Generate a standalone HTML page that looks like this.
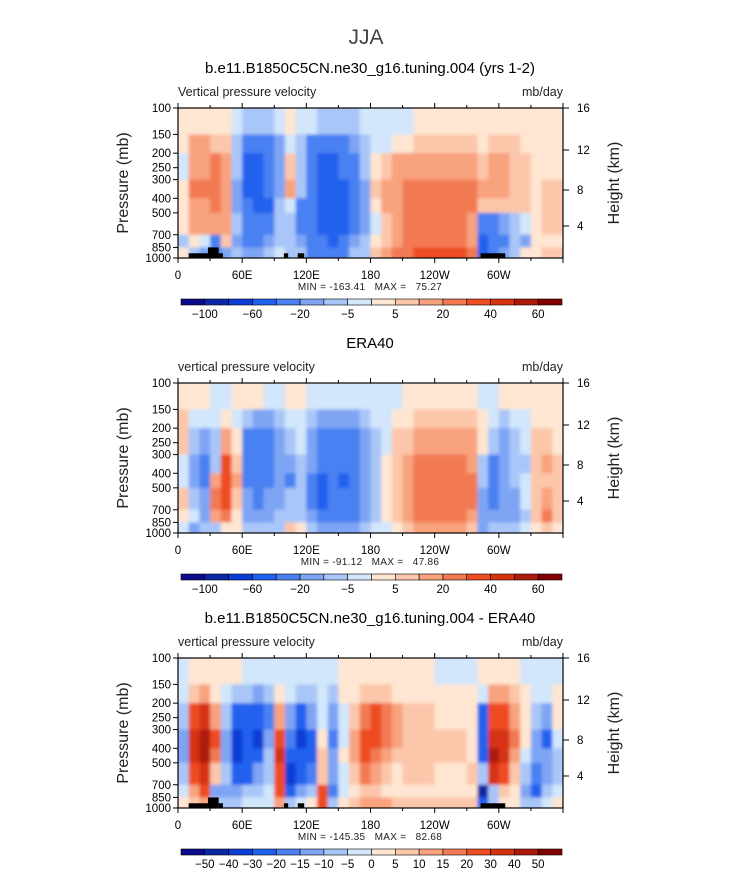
<!DOCTYPE html>
<html><head><meta charset="utf-8"><style>
body{margin:0;background:#fff;}
svg{display:block;font-family:"Liberation Sans",sans-serif;}
</style></head><body>
<svg id="root" width="733" height="888" viewBox="0 0 733 888">
<defs><filter id="soft" x="-2%" y="-2%" width="104%" height="104%"><feGaussianBlur stdDeviation="1.6"/></filter></defs>
<text x="366" y="44" font-size="21" fill="#444" text-anchor="middle" font-weight="300">JJA</text>
<g id="panels"></g>
</svg>
<script>
// ===== data =====
const lonEdges = [0,10,20,30,40,50,60,70,80,90,100,110,120,130,140,150,160,170,180,190,200,210,220,230,240,250,260,270,280,290,300,310,320,330,340,350,360];
const presEdges = [100,150,200,300,400,500,700,850,1000];
const xTickVals = [0,60,120,180,240,300];
const xTickLabels = ["0","60E","120E","180","120W","60W"];
const pTickVals = [100,150,200,250,300,400,500,700,850,1000];
const hTickLabels = ["16","12","8","4"];
const levelsA = [-100,-80,-60,-40,-20,-10,-5,0,5,10,20,30,40,50,60];
const labelsA = ["-100","","-60","","-20","","-5","","5","","20","","40","","60"];
const levelsB = [-50,-40,-30,-20,-15,-10,-5,0,5,10,15,20,30,40,50];
const labelsB = ["-50","-40","-30","-20","-15","-10","-5","0","5","10","15","20","30","40","50"];
const palette = ["#0a0a8a","#0a28a6","#0a3cd6","#2060ee","#4a80f2","#7ea4f4","#a9c6f8","#d2e6fc","#fee6d2","#fcc6aa","#f8a27e","#f27a52","#ee4c22","#d63212","#ae1a0a","#820000"];
const topoBlocks = [[10,28,930],[28,38,850],[38,42,930],[99,103,930],[112,118,930],[283,306,930]];
// model (rows top->bottom: 100-150,150-200,200-300,300-400,400-500,500-700,700-850,850-1000)
const model = [
[3,3,-3,3,3,3,-7,3],[3,15,15,25,15,15,3,-7],[3,15,15,25,15,15,-3,-15],[3,7,25,25,25,15,-30,-30],
[3,7,15,15,15,15,7,-15],[-3,-7,-7,-15,-15,-7,-15,-7],[-7,-30,-50,-50,-30,-30,-30,-15],[-7,-30,-50,-50,-50,-30,-30,-15],
[-7,-30,-30,-30,-50,-30,-15,-7],[-3,-15,-15,-15,-7,-7,-7,-3],[3,-3,7,15,-3,-7,-7,-7],[-3,-7,-7,-7,-30,-30,-15,-7],
[-3,-30,-30,-30,-30,-30,-30,-30],[-7,-30,-50,-50,-50,-50,-30,-30],[-7,-30,-50,-50,-50,-50,-50,-30],[-7,-30,-30,-50,-50,-50,-30,-30],
[-7,-15,-30,-30,-30,-30,-15,-7],[-3,-7,-7,-15,-15,-15,-7,-7],[-3,-3,3,7,3,-3,3,7],[-3,-3,7,15,15,7,7,15],
[-3,3,15,15,15,15,15,25],[-3,3,15,25,25,25,25,25],[3,7,15,25,25,25,25,35],[3,7,15,25,25,25,25,35],
[3,7,15,25,25,25,25,35],[3,7,15,25,25,25,25,35],[3,7,15,25,25,25,25,35],[3,7,15,25,25,15,15,25],
[3,3,7,15,7,-30,-50,-50],[3,7,15,15,7,-30,-30,-30],[3,7,15,15,7,-15,-30,-15],[3,7,7,7,7,-7,-7,-7],
[3,3,7,7,7,-3,-15,3],[3,3,3,3,3,3,3,3],[3,3,3,7,7,7,3,7],[3,3,3,7,7,7,3,7]];
const era = [
[3,7,7,-3,-3,7,3,-3],[3,-3,-7,-15,-15,-7,-3,-15],[3,-3,-15,-30,-30,-15,-15,-7],[-3,-3,-7,-7,15,25,15,-7],
[-3,3,15,35,35,35,25,3],[3,-3,3,7,15,7,3,3],[3,-7,-30,-30,-30,-15,-15,-7],[3,-15,-30,-30,-30,-30,-15,-7],
[-3,-15,-30,-30,-30,-15,-15,-7],[-3,-7,-15,-15,-15,-15,-7,-7],[3,-3,-7,-15,-30,-7,-7,7],[3,-3,-3,-7,-7,-7,-7,3],
[-3,-7,-15,-15,-30,-30,-15,-7],[-3,-15,-30,-30,-50,-50,-30,-15],[-3,-15,-30,-30,-30,-30,-30,-15],[-3,-15,-30,-30,-50,-30,-30,-15],
[-3,-15,-30,-30,-30,-30,-30,-15],[-3,-7,-15,-15,-15,-15,-15,-7],[-3,-3,-7,-7,-7,-7,-7,-3],[-3,-3,-3,3,3,3,3,-3],
[-3,3,7,7,7,7,7,3],[3,3,7,15,15,15,15,7],[3,7,15,25,25,25,25,15],[3,7,15,25,25,25,25,15],
[3,7,15,25,25,25,25,15],[3,7,15,25,25,25,25,15],[3,7,15,25,25,25,25,15],[3,7,15,15,25,25,15,7],
[-3,3,3,-7,-7,-15,-15,-15],[-3,-3,-7,-30,-30,-30,-15,-7],[3,-7,-15,-15,-15,-15,-15,-7],[3,-3,-7,-7,-7,-15,-15,-7],
[3,-3,-3,-7,-3,-3,-7,-3],[3,3,7,7,7,7,7,3],[3,3,7,15,7,15,25,7],[3,3,3,7,7,7,7,3]];
const diff = [
[-2,-2,-7,-12,-12,-7,-2,2],[2,7,25,35,35,25,12,7],[2,12,35,45,45,35,25,12],[2,2,12,25,17,7,-12,-7],
[2,-2,-7,-12,-12,-7,-12,-7],[2,-7,-25,-35,-35,-25,-12,-7],[-2,-7,-25,-25,-25,-25,-7,-2],[-2,-12,-25,-35,-25,-12,-7,-2],
[-2,-7,-17,-12,-7,-7,-2,-2],[-2,2,12,25,35,25,25,12],[-2,-2,-12,-17,-25,-35,-25,-7],[-2,-7,-25,-35,-25,-25,-12,-2],
[-2,-7,-12,-25,-25,-17,-7,2],[-2,-2,-2,2,7,7,25,25],[-2,-7,-12,-17,-12,-12,-17,-7],[2,2,-2,-2,2,-2,-2,2],
[2,2,7,12,12,7,2,7],[2,7,17,25,25,17,7,12],[2,7,25,25,17,12,7,12],[2,7,17,17,12,7,2,12],
[2,2,12,12,7,2,2,7],[2,2,7,7,7,7,2,7],[2,2,7,7,7,7,2,7],[2,2,7,7,7,7,2,7],
[-2,2,2,7,7,2,2,7],[-2,2,2,7,7,2,2,7],[-2,2,2,7,7,2,2,7],[-2,2,2,2,2,7,2,7],
[2,-2,-25,-25,-25,-7,-45,-25],[2,12,25,35,45,35,-7,-7],[2,12,25,35,35,25,7,2],[2,7,12,17,12,7,2,2],
[-2,2,2,2,-2,-7,-12,-7],[-2,-2,-7,-12,-12,-17,-25,-7],[-2,-2,-12,-25,-12,-12,-7,-2],[-2,2,2,-2,-7,-7,-2,2]];

const NS="http://www.w3.org/2000/svg";
function el(tag, attrs, parent, txt){const e=document.createElementNS(NS,tag);for(const k in attrs)e.setAttribute(k,attrs[k]);if(txt!==undefined)e.textContent=txt;parent.appendChild(e);return e;}
const X0=178,X1=563,H=150;
const xs=lon=>X0+(lon/360)*(X1-X0);
function cls(v,lev){let c=0;for(const b of lev)if(v>=b)c++;return c;}
const panelsG=document.getElementById('panels');
const defs=document.querySelector('defs');
const panels=[
 {top:108,title:"b.e11.B1850C5CN.ne30_g16.tuning.004 (yrs 1-2)",sub:"Vertical pressure velocity",data:model,lev:levelsA,lab:labelsA,mm:"MIN = -163.41   MAX =   75.27",topo:true,name:"model"},
 {top:383,title:"ERA40",sub:"vertical pressure velocity",data:era,lev:levelsA,lab:labelsA,mm:"MIN = -91.12   MAX =   47.86",topo:false,name:"era40"},
 {top:658,title:"b.e11.B1850C5CN.ne30_g16.tuning.004 - ERA40",sub:"vertical pressure velocity",data:diff,lev:levelsB,lab:labelsB,mm:"MIN = -145.35   MAX =   82.68",topo:true,name:"difference"}];
panels.forEach((P,pi)=>{
 const T=P.top, ys=p=>T+Math.log10(p/100)*H;
 const cp=el('clipPath',{id:'clip'+pi},defs);
 el('rect',{x:X0,y:T,width:X1-X0,height:H},cp);
 const g=el('g',{},panelsG);
 
 
 const t=el('text',{x:370,y:T-35,'font-size':15,'text-anchor':'middle',fill:'#000'},g,P.title);
 
 
 const s=el('text',{x:X0,y:T-12,'font-size':12.5,fill:'#222'},g,P.sub);
 
 
 const u=el('text',{x:X1,y:T-12,'font-size':12.5,fill:'#222','text-anchor':'end'},g,'mb/day');
 
 
 const clipG=el('g',{'clip-path':`url(#clip${pi})`},g);
 const cg=el('g',{filter:'url(#soft)'},clipG);
 
 
 P.data.forEach((col,i)=>{col.forEach((v,j)=>{
   const x=xs(lonEdges[i]),w=xs(lonEdges[i+1])-x+0.5,y=ys(presEdges[j]),h=ys(presEdges[j+1])-y+0.5;
   const ext=(i===0?4:0),exr=(i===P.data.length-1?4:0),ext2=(j===0?4:0),exb=(j===7?4:0);
   const r=el('rect',{x:x-ext,y:y-ext2,width:w+ext+exr,height:h+ext2+exb,fill:palette[cls(v,P.lev)]},cg);
   
   
 });});
 if(P.topo){topoBlocks.forEach(b=>{
   const r=el('rect',{x:xs(b[0]),y:ys(b[2]),width:xs(b[1])-xs(b[0]),height:T+H-ys(b[2]),fill:'#000'},g);
   
   
 });}
 const fr=el('rect',{x:X0,y:T,width:X1-X0,height:H,fill:'none',stroke:'#000','stroke-width':1.2},g);
 
 
 for(let lon=0;lon<=360;lon+=30){
   const major=lon%60===0,L=major?5:3,x=xs(lon);
   el('line',{x1:x,x2:x,y1:T,y2:T-L,stroke:'#000'},g);
   el('line',{x1:x,x2:x,y1:T+H,y2:T+H+L,stroke:'#000'},g);
 }
 xTickVals.forEach((v,i)=>{const tx=el('text',{x:xs(v),y:T+H+21,'font-size':11.5,'text-anchor':'middle'},g,xTickLabels[i]);
   
   });
 const mm=el('text',{x:370,y:T+H+32,'font-size':10,'text-anchor':'middle',fill:'#222','xml:space':'preserve',style:'white-space:pre','letter-spacing':'0.3'},g,P.mm);
 
 
 pTickVals.forEach(p=>{const y=ys(p);el('line',{x1:X0,x2:X0-5,y1:y,y2:y,stroke:'#000'},g);
   const tx=el('text',{x:171,y:y+4,'font-size':11.5,'text-anchor':'end'},g,String(p));
   
   });
 const hOff=[0,42,82,118];
 hTickLabels.forEach((l,i)=>{const y=T+hOff[i];el('line',{x1:X1,x2:X1+6,y1:y,y2:y,stroke:'#000'},g);
   const tx=el('text',{x:577,y:y+4,'font-size':11.5},g,l);
   
   });
 const yt=el('text',{x:0,y:0,'font-size':16,'text-anchor':'middle',fill:'#222',transform:`translate(128,${T+H/2}) rotate(-90)`},g,'Pressure (mb)');
 
 
 const ht=el('text',{x:0,y:0,'font-size':16,'text-anchor':'middle',fill:'#222',transform:`translate(619,${T+H/2}) rotate(-90)`},g,'Height (km)');
 
 
 const cb=el('g',{},g);
 
 
 const CB0=181,CB1=562,bw=(CB1-CB0)/16,cy=T+191;
 palette.forEach((c,i)=>{const r=el('rect',{x:CB0+i*bw,y:cy,width:bw,height:6,fill:c,stroke:'#000','stroke-width':0.6},cb);
   
   });
 P.lab.forEach((l,i)=>{if(!l)return;const tx=el('text',{x:CB0+(i+1)*bw,y:cy+19,'font-size':11.5,'text-anchor':'middle'},cb,l.replace('-','\u2212'));
   
   });
});
</script>
</body></html>
